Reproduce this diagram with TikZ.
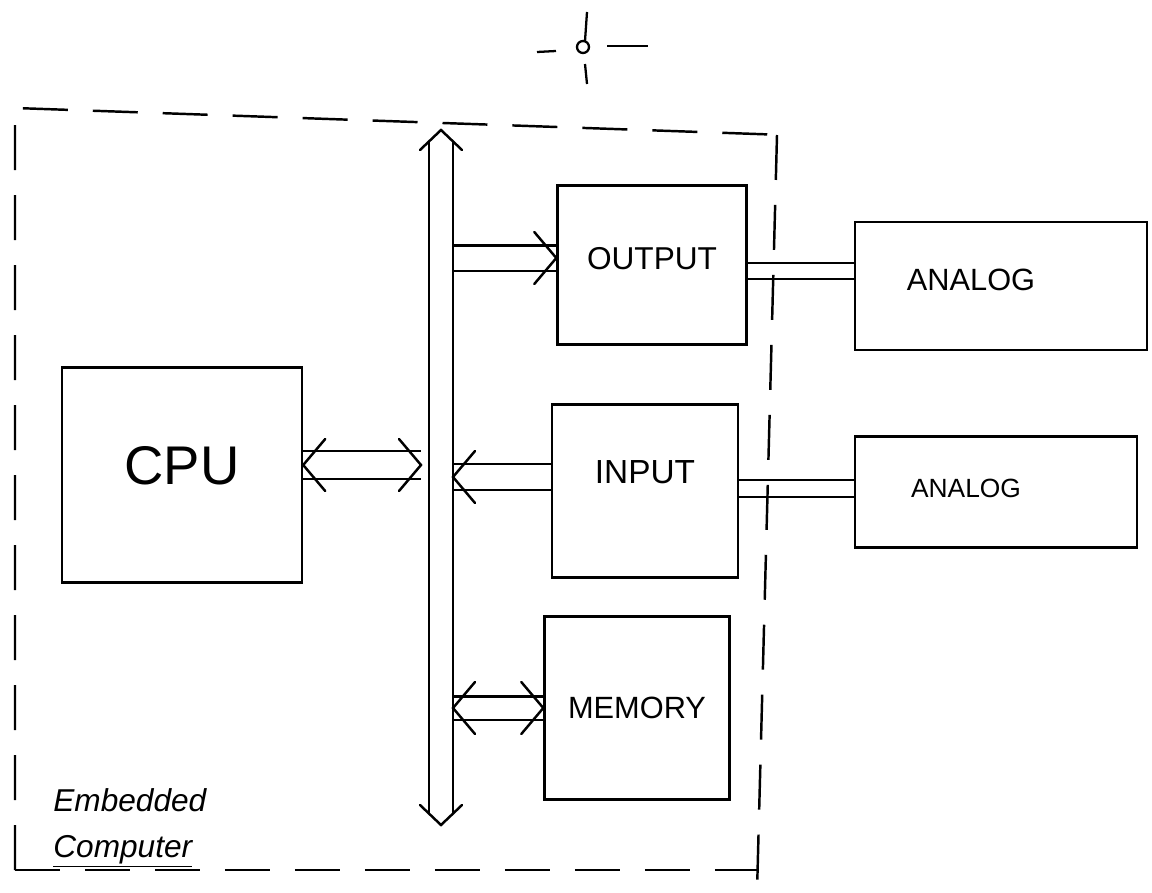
\documentclass[tikz,border=0pt]{standalone}
\usepackage{fontspec}
\setmainfont{Liberation Sans}
\usepackage{tikz}
\usetikzlibrary{arrows.meta, positioning}

\tikzset{
  blk/.style={draw, line width=1.4pt, inner sep=0pt},
  pipe/.style={double, line width=1.3pt, double distance=0.48cm},
  wire/.style={line width=1.3pt},
  border/.style={line width=1.4pt, dash pattern=on 0.9cm off 0.5cm},
  chev/.pic={\draw[line width=1.4pt, line cap=round] (22,-26) -- (0,0) -- (22,26);},
  smallchev/.pic={\draw[line width=1.4pt, line cap=round] (20,-21) -- (0,0) -- (20,21);}
}

\begin{document}
\begin{tikzpicture}[x=0.02cm, y=-0.02cm]
    \useasboundingbox (0,0) rectangle (1152,892);
    \draw[border] (15,870) -- (15,108) -- (785,135);
    \draw[border] (777,135) -- (757,892);
    \draw[border] (15,870) -- (757,870);

    \draw[wire] (587,12) -- (585,41);
    \draw[wire] (583,47) circle (6);
    \draw[wire] (585,64) -- (587,84);
    \draw[wire] (537,52) -- (556,51);
    \draw[wire] (607,46) -- (648,46);

    \node[blk, minimum width=4.8cm, minimum height=4.3cm, text depth=0.4cm, font=\fontsize{31}{31}\selectfont] (cpu) at (182,475) {CPU};
    \node[blk, minimum width=3.78cm, minimum height=3.18cm, text depth=0.28cm, font=\fontsize{18}{18}\selectfont] (output) at (652,265) {OUTPUT};
    \node[blk, minimum width=3.72cm, minimum height=3.46cm, text depth=0.76cm, font=\fontsize{19}{19}\selectfont] (input) at (645,491) {INPUT};
    \node[blk, minimum width=3.7cm, minimum height=3.66cm, font=\fontsize{17.5}{17.5}\selectfont] (memory) at (637,708) {MEMORY};
    \node[blk, minimum width=5.84cm, minimum height=2.56cm, text depth=0.24cm, font=\fontsize{17.5}{17.5}\selectfont] (anaout) at (1001,286) {ANALOG\hspace*{1.2cm}};
    \node[blk, minimum width=5.64cm, minimum height=2.22cm, text depth=0.16cm, font=\fontsize{15}{15}\selectfont] (anain) at (996,492) {ANALOG\hspace*{1.2cm}};

    \coordinate (bustop) at (441,130);
    \coordinate (busbot) at (441,825);
    \coordinate (busL) at (421,475);
    \coordinate (busR) at (453,475);
    \coordinate (cpuend) at ([yshift=0.2cm]cpu.east);
    \coordinate (outend) at ([yshift=0.14cm]output.west);
    \coordinate (inend) at ([yshift=0.28cm]input.west);

    \draw[pipe, double distance=0.52cm] (cpuend) -- (cpuend -| busL);
    \draw[pipe, double distance=0.46cm] (outend -| busR) -- (outend);
    \draw[pipe] (inend) -- (inend -| busR);
    \draw[pipe, double distance=0.42cm] (memory.west) -- (memory.west -| busR);
    \draw[pipe, double distance=0.44cm] ([yshift=-0.22cm]bustop) -- ([yshift=0.22cm]busbot);

    \path (bustop) pic[rotate=-90] {smallchev};
    \path (busbot) pic[rotate=90] {smallchev};
    \path (cpuend) pic {chev};
    \path (cpuend -| busL) pic[rotate=180] {chev};
    \path (outend) pic[rotate=180] {chev};
    \path (inend -| busR) pic {chev};
    \path (memory.west -| busR) pic {chev};
    \path (memory.west) pic[rotate=180] {chev};

    \draw[wire] ([yshift=0.04cm]output.east) -- ([yshift=0.04cm]output.east -| anaout.west);
    \draw[wire] ([yshift=-0.28cm]output.east) -- ([yshift=-0.28cm]output.east -| anaout.west);
    \draw[wire] ([yshift=0.22cm]input.east) -- ([yshift=0.22cm]input.east -| anain.west);
    \draw[wire] ([yshift=-0.12cm]input.east) -- ([yshift=-0.12cm]input.east -| anain.west);

    \node[align=left, anchor=south west, inner sep=0pt, font=\fontsize{18}{26}\selectfont\itshape] (label) at (53,868) {Embedded\\\underline{Computer}};
\end{tikzpicture}
\end{document}
